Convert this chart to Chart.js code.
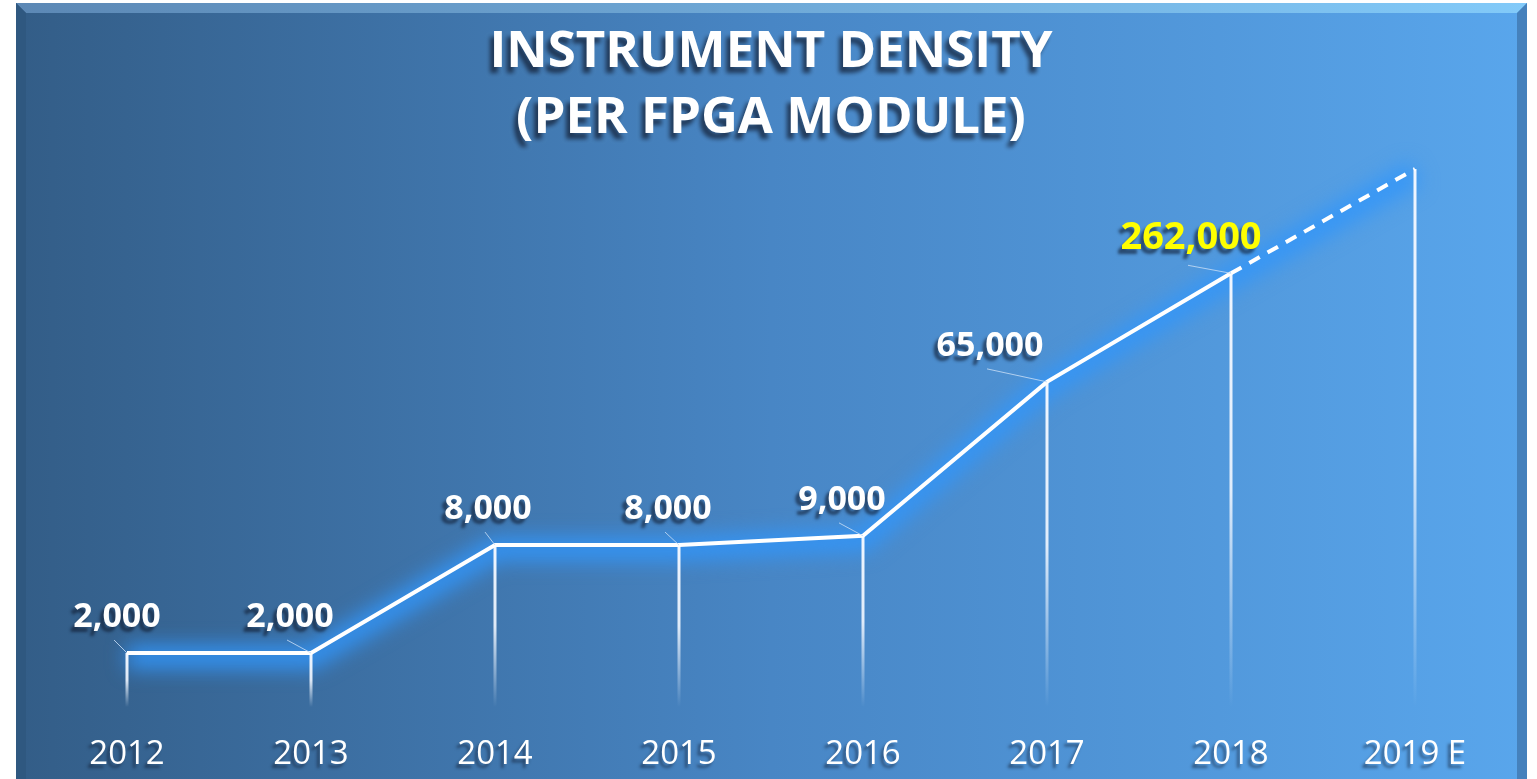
<!DOCTYPE html>
<html>
<head>
<meta charset="utf-8">
<title>Instrument density</title>
<script src="https://cdn.jsdelivr.net/npm/chart.js@4.4.1/dist/chart.umd.min.js"></script>
<style>
  html, body { margin: 0; padding: 0; background: #fff; }
  canvas { display: block; }
</style>
</head>
<body>
<canvas id="chart" width="1537" height="779"></canvas>
<script>
const years = ['2012', '2013', '2014', '2015', '2016', '2017', '2018', '2019 E']
const density = [2000, 2000, 8000, 8000, 9000, 65000, 262000, 1000000]
const estimated = [false, false, false, false, false, false, false, true]
const titleLines = ['INSTRUMENT DENSITY', '(PER FPGA MODULE)']

const FONT = "'Open Sans', 'Noto Sans', sans-serif"
// labels were dragged around by hand in the original, nudge them a bit
const labelNudge = [-10, -21, -7, -11, -21, -57, -40, 0]
const highlightIndex = 6

function shadow(ctx, color, blur, dx, dy) {
	ctx.shadowColor = color
	ctx.shadowBlur = blur
	ctx.shadowOffsetX = dx
	ctx.shadowOffsetY = dy
}

const panelPlugin = {
	id: 'panel',
	beforeDraw(chart) {
		const ctx = chart.ctx
		const h = chart.height
		const L = 16, R = 1527, T = 3, bev = 10

		ctx.save()
		const bg = ctx.createLinearGradient(L, 0, R, 0)
		bg.addColorStop(0, '#335d87')
		bg.addColorStop(0.5, '#4886c5')
		bg.addColorStop(1, '#59a6ec')
		ctx.fillStyle = bg
		ctx.fillRect(L, T, R - L, h - T)

		const top = ctx.createLinearGradient(L, 0, R, 0)
		top.addColorStop(0, '#5c88b5')
		top.addColorStop(1, '#82caf9')
		ctx.fillStyle = top
		ctx.beginPath()
		ctx.moveTo(L, T); ctx.lineTo(R, T); ctx.lineTo(R - bev, T + bev); ctx.lineTo(L + bev, T + bev)
		ctx.closePath(); ctx.fill()

		ctx.fillStyle = '#2f5880'
		ctx.beginPath()
		ctx.moveTo(L, T); ctx.lineTo(L + bev, T + bev); ctx.lineTo(L + bev, h); ctx.lineTo(L, h)
		ctx.closePath(); ctx.fill()

		ctx.fillStyle = '#4581bc'
		ctx.beginPath()
		ctx.moveTo(R, T); ctx.lineTo(R - bev, T + bev); ctx.lineTo(R - bev, h); ctx.lineTo(R, h)
		ctx.closePath(); ctx.fill()

		// title
		ctx.font = 'bold 51px ' + FONT
		ctx.textAlign = 'center'
		ctx.textBaseline = 'middle'
		ctx.fillStyle = '#ffffff'
		shadow(ctx, 'rgba(15,25,45,0.7)', 4, -4, 6)
		ctx.fillText(titleLines[0], 771, 52)
		ctx.fillText(titleLines[1], 771, 118)
		ctx.restore()

		// tick labels get a soft shadow too, cleared again before datasets
		shadow(ctx, 'rgba(15,25,45,0.5)', 3, -3, 4)
	},
	beforeDatasetsDraw(chart) {
		const ctx = chart.ctx
		shadow(ctx, 'rgba(0,0,0,0)', 0, 0, 0)

		const bottom = chart.chartArea.bottom
		const meta = chart.getDatasetMeta(0)
		const pts = meta.data

		// blue glow along the line
		ctx.save()
		ctx.filter = 'blur(10px)'
		ctx.strokeStyle = 'rgba(50,150,250,0.9)'
		ctx.lineWidth = 24
		ctx.lineJoin = 'round'
		ctx.beginPath()
		pts.forEach((pt, i) => {
			if (i === 0) ctx.moveTo(pt.x, pt.y + 4)
			else ctx.lineTo(pt.x, pt.y + 4)
		})
		ctx.stroke()
		ctx.restore()

		// drop lines from each point down to the bottom of the plot
		ctx.save()
		ctx.lineWidth = 3
		for (const pt of pts) {
			const g = ctx.createLinearGradient(0, pt.y, 0, bottom)
			g.addColorStop(0, 'rgba(240,246,255,1)')
			g.addColorStop(0.5, 'rgba(240,246,255,0.9)')
			g.addColorStop(1, 'rgba(240,246,255,0)')
			ctx.strokeStyle = g
			ctx.beginPath()
			ctx.moveTo(pt.x, pt.y)
			ctx.lineTo(pt.x, bottom)
			ctx.stroke()
		}
		ctx.restore()
	},
	afterDatasetsDraw(chart) {
		const ctx = chart.ctx
		const meta = chart.getDatasetMeta(0)
		ctx.save()
		ctx.textAlign = 'center'
		ctx.textBaseline = 'middle'
		meta.data.forEach((pt, i) => {
			if (estimated[i]) return
			const big = i === highlightIndex
			const cx = pt.x + labelNudge[i]
			const cy = pt.y - (big ? 35 : 36)

			shadow(ctx, 'rgba(0,0,0,0)', 0, 0, 0)
			ctx.strokeStyle = 'rgba(195,218,245,0.85)'
			ctx.lineWidth = 1
			ctx.beginPath()
			ctx.moveTo(cx - 3, cy + (big ? 27 : 23))
			ctx.lineTo(pt.x, pt.y)
			ctx.stroke()

			ctx.font = 'bold ' + (big ? 38 : 34) + 'px ' + FONT
			ctx.fillStyle = big ? '#ffff00' : '#ffffff'
			shadow(ctx, 'rgba(15,25,45,0.6)', 3, -4, 5)
			ctx.fillText(density[i].toLocaleString('en-US'), cx, cy)
		})
		ctx.restore()
	}
}

new Chart(document.getElementById('chart'), {
	type: 'line',
	data: {
		labels: years,
		datasets: [
			{
				label: 'Instrument density',
				data: density,
				borderColor: '#ffffff',
				borderWidth: 4,
				borderJoinStyle: 'miter',
				pointRadius: 0,
				pointHoverRadius: 0,
				tension: 0,
				clip: false,
				segment: {
					borderDash: ctx => estimated[ctx.p1DataIndex] ? [12, 9] : undefined
				}
			}
		]
	},
	plugins: [panelPlugin],
	options: {
		responsive: false,
		animation: false,
		events: [],
		layout: {
			padding: { left: 127, right: 122, top: 115, bottom: 0 }
		},
		plugins: {
			legend: { display: false },
			title: { display: false },
			tooltip: { enabled: false }
		},
		scales: {
			x: {
				grid: { display: false, drawTicks: false },
				border: { display: false },
				ticks: {
					color: '#ffffff',
					padding: 28,
					maxRotation: 0,
					autoSkip: false,
					font: { family: FONT, size: 33 }
				},
				afterFit: scale => { scale.height = 72 }
			},
			y: {
				type: 'logarithmic',
				display: false,
				min: 1000,
				max: 2000000
			}
		}
	}
})
</script>
</body>
</html>
